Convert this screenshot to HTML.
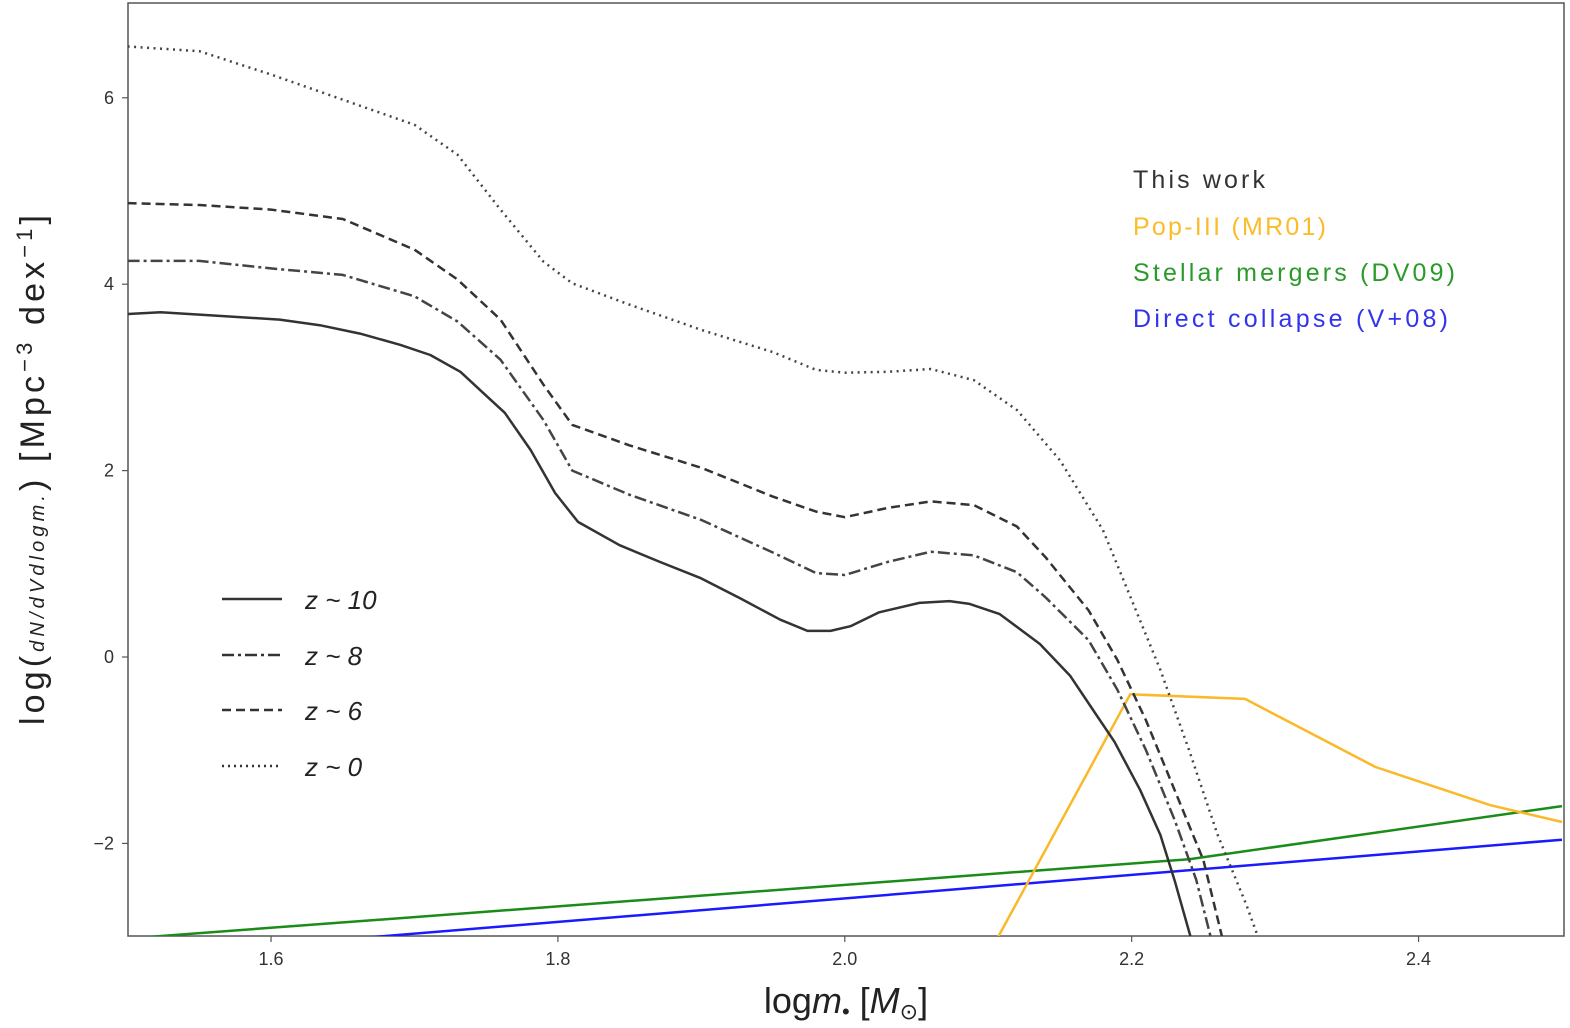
<!DOCTYPE html>
<html><head><meta charset="utf-8"><style>
html,body{margin:0;padding:0;background:#fff;}
svg{display:block;font-family:"Liberation Sans","DejaVu Sans",sans-serif;}
</style></head><body>
<svg id="chart" width="1570" height="1028" viewBox="0 0 1570 1028">
<defs><clipPath id="clip"><rect x="128" y="3" width="1436" height="933"/></clipPath></defs>
<rect x="128" y="3" width="1436" height="933" fill="#fff" stroke="#555" stroke-width="1.5"/>
<g id="ticks"></g>
<g id="series" clip-path="url(#clip)"></g>
<text x="846" y="1013" font-size="36" text-anchor="middle" fill="#222">log<tspan font-style="italic">m</tspan><tspan font-size="22" dy="6">•</tspan><tspan dy="-6"> [</tspan><tspan font-style="italic">M</tspan><tspan font-size="22" dy="6">⊙</tspan><tspan dy="-6">]</tspan></text>
<g transform="translate(44,470) rotate(-90)">
<text x="0" y="0" font-size="34" text-anchor="middle" fill="#222" textLength="510" lengthAdjust="spacing">log(<tspan font-size="20" font-style="italic">dN/dVdlogm.</tspan>) [Mpc<tspan font-size="22" dy="-12">−3</tspan><tspan dy="12"> dex</tspan><tspan font-size="22" dy="-12">−1</tspan><tspan dy="12">]</tspan></text>
</g>
<g>
<line x1="222" y1="599" x2="282" y2="599" stroke="#333" stroke-width="2.5"/>
<text x="305" y="609" font-size="26" fill="#222" font-style="italic">z ~ 10</text>
<line x1="222" y1="655" x2="282" y2="655" stroke="#333" stroke-width="2.5" stroke-dasharray="12,4,3,4"/>
<text x="305" y="665" font-size="26" fill="#222" font-style="italic">z ~ 8</text>
<line x1="222" y1="710" x2="282" y2="710" stroke="#333" stroke-width="2.5" stroke-dasharray="9,5"/>
<text x="305" y="720" font-size="26" fill="#222" font-style="italic">z ~ 6</text>
<line x1="222" y1="766" x2="282" y2="766" stroke="#333" stroke-width="2.5" stroke-dasharray="2,4"/>
<text x="305" y="776" font-size="26" fill="#222" font-style="italic">z ~ 0</text>
</g>
<g font-size="25">
<text x="1133" y="188" fill="#333" textLength="132" lengthAdjust="spacing">This work</text>
<text x="1133" y="235" fill="#fbbc2a" textLength="193" lengthAdjust="spacing">Pop-III (MR01)</text>
<text x="1133" y="281" fill="#2a9a2a" textLength="322" lengthAdjust="spacing">Stellar mergers (DV09)</text>
<text x="1133" y="327" fill="#3333ee" textLength="315" lengthAdjust="spacing">Direct collapse (V+08)</text>
</g>
</svg>
<script>
const xTicks=[1.6,1.8,2.0,2.2,2.4];
const xTickLabels=["1.6","1.8","2.0","2.2","2.4"];
const yTicks=[-2,0,2,4,6];
const yTickLabels=["−2","0","2","4","6"];
const z10X=[1.500,1.523,1.564,1.606,1.634,1.662,1.690,1.711,1.732,1.746,1.763,1.781,1.798,1.814,1.843,1.871,1.899,1.927,1.955,1.974,1.990,2.004,2.024,2.052,2.073,2.087,2.108,2.136,2.157,2.174,2.188,2.206,2.220,2.230,2.241];
const z10Y=[3.68,3.70,3.66,3.62,3.56,3.47,3.35,3.24,3.06,2.86,2.62,2.22,1.76,1.45,1.20,1.02,0.85,0.63,0.40,0.28,0.28,0.33,0.48,0.58,0.60,0.57,0.46,0.14,-0.20,-0.59,-0.91,-1.43,-1.91,-2.40,-3.0];
const zLinX=[1.5,1.55,1.6,1.65,1.7,1.73,1.76,1.79,1.81,1.85,1.9,1.95,1.98,2.0,2.03,2.06,2.09,2.12,2.14,2.17,2.19,2.21,2.23,2.245,2.255];
const z8Y=[4.25,4.25,4.17,4.10,3.87,3.6,3.19,2.54,2.0,1.74,1.47,1.12,0.9,0.88,1.02,1.13,1.09,0.91,0.64,0.18,-0.35,-1.0,-1.75,-2.39,-3.0];
const z6X=[1.5,1.55,1.6,1.65,1.7,1.73,1.76,1.79,1.81,1.85,1.9,1.95,1.98,2.0,2.03,2.06,2.09,2.12,2.14,2.17,2.19,2.21,2.23,2.25,2.263];
const z6Y=[4.87,4.85,4.8,4.7,4.37,4.05,3.62,2.92,2.49,2.27,2.03,1.72,1.56,1.50,1.6,1.67,1.63,1.4,1.07,0.5,-0.03,-0.68,-1.43,-2.18,-3.0];
const z0X=[1.5,1.55,1.6,1.65,1.7,1.73,1.76,1.79,1.81,1.85,1.9,1.95,1.98,2.0,2.03,2.06,2.09,2.12,2.15,2.18,2.2,2.22,2.24,2.26,2.28,2.288];
const z0Y=[6.55,6.5,6.25,5.98,5.71,5.39,4.8,4.24,4.01,3.78,3.51,3.27,3.08,3.05,3.06,3.09,2.97,2.65,2.11,1.36,0.61,-0.14,-1.0,-1.91,-2.66,-3.0];
const popX=[2.107,2.199,2.279,2.37,2.45,2.5];
const popY=[-3.0,-0.40,-0.45,-1.18,-1.59,-1.77];
const mergX=[1.5,2.24,2.5];
const mergY=[-3.02,-2.17,-1.6];
const dcX=[1.5,2.5];
const dcY=[-3.22,-1.96];

const X0=127.6,XS=1434.4,Y0=657,YS=93.2;
function sx(v){return X0+(v-1.5)*XS;}
function sy(v){return Y0-v*YS;}
const NS='http://www.w3.org/2000/svg';
const tg=document.getElementById('ticks');
xTicks.forEach((t,i)=>{
  const l=document.createElementNS(NS,'line');
  l.setAttribute('x1',sx(t));l.setAttribute('x2',sx(t));l.setAttribute('y1',936);l.setAttribute('y2',942);
  l.setAttribute('stroke','#555');l.setAttribute('stroke-width','1.2');
  
  
  tg.appendChild(l);
  const tx=document.createElementNS(NS,'text');
  tx.setAttribute('x',sx(t));tx.setAttribute('y',965);tx.setAttribute('text-anchor','middle');
  tx.setAttribute('font-size','18');tx.setAttribute('fill','#333');
  tx.textContent=xTickLabels[i];
  
  
  tg.appendChild(tx);
});
yTicks.forEach((t,i)=>{
  const l=document.createElementNS(NS,'line');
  l.setAttribute('x1',122);l.setAttribute('x2',128);l.setAttribute('y1',sy(t));l.setAttribute('y2',sy(t));
  l.setAttribute('stroke','#555');l.setAttribute('stroke-width','1.2');
  
  
  tg.appendChild(l);
  const tx=document.createElementNS(NS,'text');
  tx.setAttribute('x',114);tx.setAttribute('y',sy(t)+6);tx.setAttribute('text-anchor','end');
  tx.setAttribute('font-size','18');tx.setAttribute('fill','#333');
  tx.textContent=yTickLabels[i];
  
  
  tg.appendChild(tx);
});
const sg=document.getElementById('series');
function draw(xs,ys,color,dash,name){
  const p=document.createElementNS(NS,'polyline');
  p.setAttribute('points',xs.map((x,i)=>sx(x).toFixed(1)+','+sy(ys[i]).toFixed(1)).join(' '));
  p.setAttribute('fill','none');p.setAttribute('stroke',color);p.setAttribute('stroke-width','2.5');
  p.setAttribute('stroke-linejoin','round');
  if(dash)p.setAttribute('stroke-dasharray',dash);
  
  
  sg.appendChild(p);
}
draw(dcX,dcY,'#1a1aff',null,'direct-collapse-line');
draw(mergX,mergY,'#1a8c1a',null,'stellar-mergers-line');
draw(popX,popY,'#fbb829',null,'pop3-line');
draw(z0X,z0Y,'#444','2,4.5','z0-line');
draw(z6X,z6Y,'#333','9,5','z6-line');
draw(zLinX,z8Y,'#444','12,4,3,4','z8-line');
draw(z10X,z10Y,'#333',null,'z10-line');
</script>
</body></html>
